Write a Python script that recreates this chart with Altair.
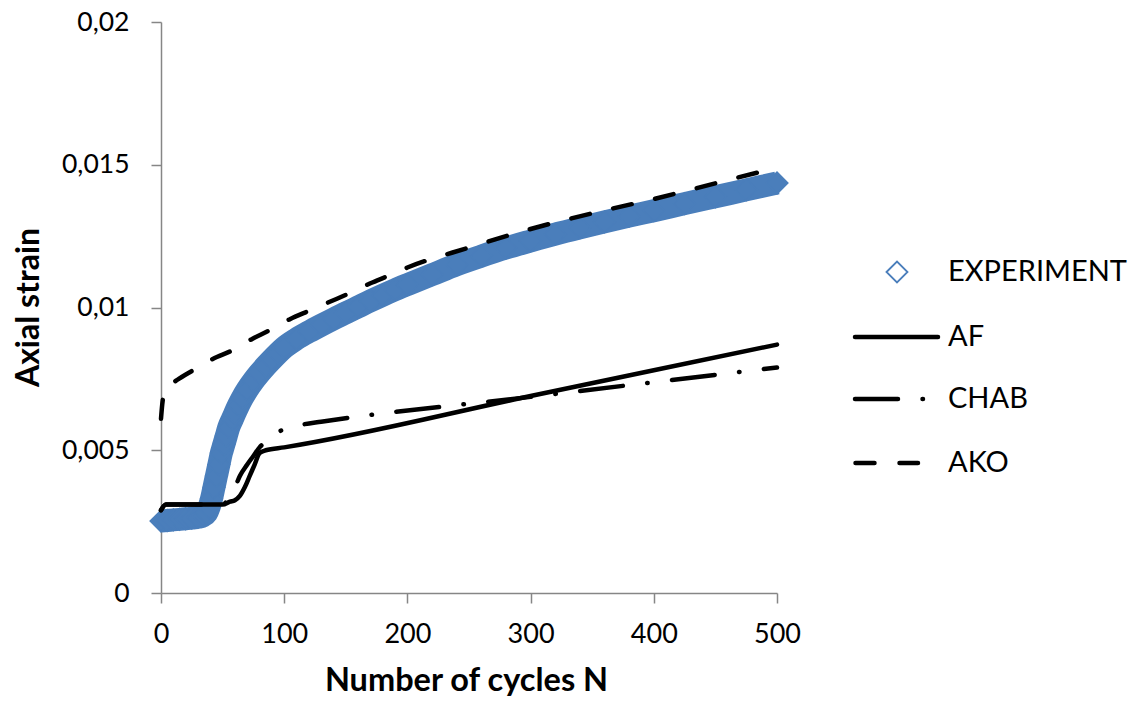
import altair as alt
import pandas as pd

BLUE = "#4A7EBB"
AXIS_GREY = "#868686"
FONT = "Lato"

# ---------------- data ----------------
exp_n = [0, 5, 10, 15, 20, 25, 30, 34, 37, 39, 41, 43, 45, 47, 49, 51, 53, 55,
         58, 60, 63, 66, 70, 75, 80, 85, 90, 95, 100, 110, 120, 130, 140, 150,
         160, 170, 180, 190, 200, 220, 240, 260, 280, 300, 320, 340, 360, 380,
         400, 425, 450, 475, 500]
exp_strain = [0.00252, 0.00254, 0.00256, 0.00258, 0.00260, 0.00262, 0.00265,
              0.00270, 0.00280, 0.00300, 0.00330, 0.00370, 0.00410, 0.00450,
              0.00490, 0.00520, 0.00550, 0.00580, 0.00610, 0.00630, 0.00658,
              0.00683, 0.00712, 0.00743, 0.00770, 0.00795, 0.00818, 0.00840,
              0.00860, 0.00890, 0.00915, 0.00938, 0.00960, 0.00981, 0.01002,
              0.01023, 0.01043, 0.01062, 0.01080, 0.01115, 0.01150, 0.01180,
              0.01208, 0.01233, 0.01257, 0.01279, 0.01300, 0.01320, 0.01339,
              0.01364, 0.01388, 0.01412, 0.01436]

af_n = [0, 4, 10, 20, 30, 40, 50, 56, 60, 64, 68, 72, 76, 80, 85, 100, 300, 500]
af_strain = [0.0029, 0.0031, 0.0031, 0.0031, 0.0031, 0.0031, 0.0031, 0.0032,
             0.00325, 0.0034, 0.0037, 0.0041, 0.0045, 0.0049, 0.0050, 0.0051,
             0.0069, 0.0087]

chab_n = [0, 4, 10, 20, 30, 40, 50, 56, 60, 64, 70, 75, 80, 85, 90, 98, 115,
          130, 300, 500]
chab_strain = [0.0029, 0.0031, 0.0031, 0.0031, 0.0031, 0.0031, 0.0031, 0.0034,
               0.0037, 0.0041, 0.0045, 0.0048, 0.0051, 0.0053, 0.0055, 0.0057,
               0.0059, 0.0060, 0.00687, 0.0079]

ako_n = [0, 1, 3, 8, 13, 26, 42, 58, 74, 88, 105, 121, 137, 153, 170, 184, 200,
         250, 300, 350, 400, 450, 500]
ako_strain = [0.0061, 0.0066, 0.0071, 0.0073, 0.00746, 0.0078, 0.0082, 0.0085,
              0.0089, 0.0092, 0.0096, 0.0099, 0.0102, 0.0105, 0.01085, 0.0111,
              0.0114, 0.0121, 0.01275, 0.0133, 0.0138, 0.01435, 0.0149]

x_ticks = [0, 100, 200, 300, 400, 500]
y_ticks = [0, 0.005, 0.01, 0.015, 0.02]
legend_labels = ["EXPERIMENT", "AF", "CHAB", "AKO"]

# ---------------- tables ----------------
exp_df = pd.DataFrame({"n": exp_n, "strain": exp_strain})
af_df = pd.DataFrame({"n": af_n, "strain": af_strain})
chab_df = pd.DataFrame({"n": chab_n, "strain": chab_strain})
ako_df = pd.DataFrame({"n": ako_n, "strain": ako_strain})

X = alt.X(
    "n:Q",
    scale=alt.Scale(domain=[0, 500], nice=False, zero=False),
    axis=alt.Axis(
        values=x_ticks, title="Number of cycles N", grid=False,
        domainColor=AXIS_GREY, domainWidth=1.5, tickColor=AXIS_GREY,
        tickWidth=1.5, tickSize=10, labelFont=FONT, labelFontSize=27,
        labelColor="#000000", labelPadding=18, labelFlush=False,
        titleFont=FONT, titleFontSize=32.5, titleFontWeight="bold",
        titleColor="#000000", titleBaseline="alphabetic", titleY=97,
        titleX=305,
    ),
)
Y = alt.Y(
    "strain:Q",
    scale=alt.Scale(domain=[0, 0.02], nice=False),
    axis=alt.Axis(
        values=y_ticks, title="Axial strain", grid=False,
        labelExpr="replace(toString(datum.value), '.', ',')",
        domainColor=AXIS_GREY, domainWidth=1.5, tickColor=AXIS_GREY,
        tickWidth=1.5, tickSize=10, labelFont=FONT, labelFontSize=26.5,
        labelColor="#000000", labelPadding=22,
        titleFont=FONT, titleFontSize=32, titleFontWeight="bold",
        titleColor="#000000", titleAngle=-90, titleAlign="center",
        titleBaseline="middle", titleX=-133, titleY=285,
    ),
)

exp_band = alt.Chart(exp_df).mark_line(
    color=BLUE, strokeWidth=23, interpolate="monotone",
    strokeCap="butt", strokeJoin="round"
).encode(x=X, y=Y)

exp_pts = alt.Chart(exp_df).mark_point(
    shape="diamond", filled=True, size=470, color=BLUE,
    stroke=BLUE, strokeWidth=1.5, opacity=1
).encode(x=X, y=Y)

af_line = alt.Chart(af_df).mark_line(
    color="#000000", strokeWidth=4.5, interpolate="monotone", strokeCap="round"
).encode(x=X, y=Y)

chab_line = alt.Chart(chab_df).mark_line(
    color="#000000", strokeWidth=4.5, interpolate="monotone", strokeCap="round",
    strokeDash=[43, 24.5, 0.5, 24.5]
).encode(x=X, y=Y)

ako_line = alt.Chart(ako_df).mark_line(
    color="#000000", strokeWidth=4.5, interpolate="monotone", strokeCap="round",
    strokeDash=[19, 24]
).encode(x=X, y=Y)

# ---------------- manual legend ----------------
leg_y = [250, 315, 377, 441]
text_x = 787


def leg_text(label, y):
    return alt.Chart(pd.DataFrame({"label": [label]})).mark_text(
        font=FONT, fontSize=29, align="left", baseline="middle", color="#000000"
    ).encode(x=alt.value(text_x), y=alt.value(y), text="label:N")


one = pd.DataFrame({"k": [0]})

leg_diamond = alt.Chart(one).mark_point(
    shape="diamond", filled=False, size=441, color=BLUE, strokeWidth=1.8,
    opacity=1
).encode(x=alt.value(736), y=alt.value(leg_y[0]))

leg_af = alt.Chart(one).mark_rule(
    color="#000000", strokeWidth=4.5, strokeCap="round"
).encode(x=alt.value(694), x2=alt.value(777), y=alt.value(leg_y[1]))

leg_chab = alt.Chart(one).mark_rule(
    color="#000000", strokeWidth=4.5, strokeCap="round",
    strokeDash=[43, 24.5, 0.5, 24.5]
).encode(x=alt.value(694), x2=alt.value(764), y=alt.value(leg_y[2]))

leg_ako = alt.Chart(one).mark_rule(
    color="#000000", strokeWidth=4.5, strokeCap="round", strokeDash=[19, 25]
).encode(x=alt.value(694.5), x2=alt.value(757), y=alt.value(leg_y[3]))

legend_layers = [leg_diamond, leg_af, leg_chab, leg_ako] + [
    leg_text(lbl, yy) for lbl, yy in zip(legend_labels, leg_y)
]

chart = alt.layer(
    exp_band, exp_pts, af_line, chab_line, ako_line, *legend_layers
).properties(
    width=616,
    height=571,
    autosize=alt.AutoSizeParams(type="none"),
    padding={"left": 153, "top": 14, "right": 358, "bottom": 104},
    background="white",
).configure_view(stroke=None)

chart.save("out.html", embed_options={"renderer": "svg", "actions": False})
